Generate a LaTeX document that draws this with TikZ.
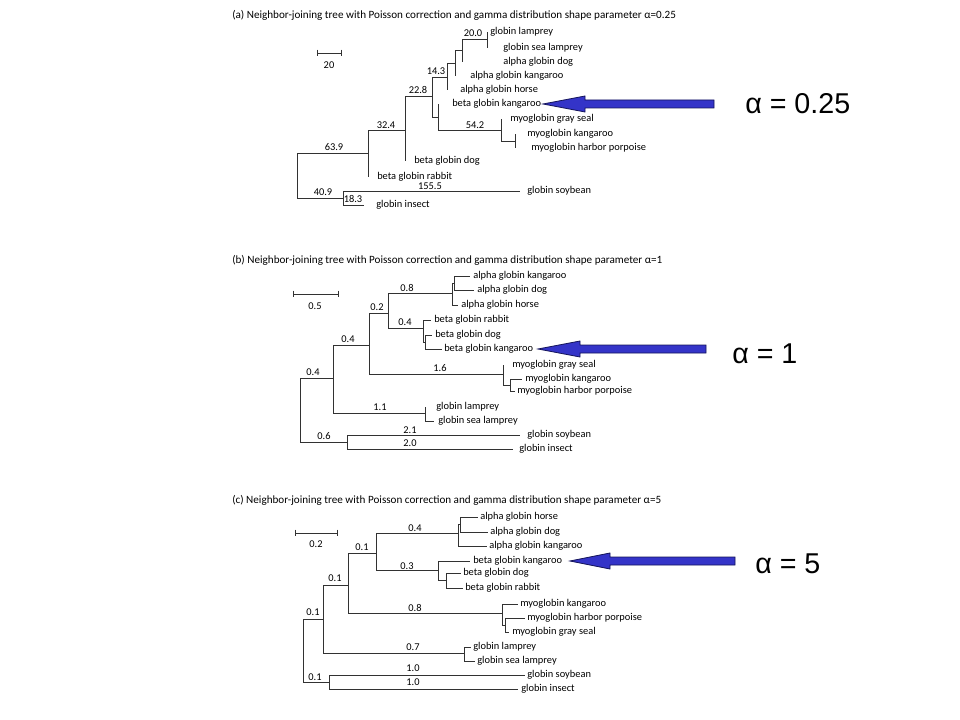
\documentclass[tikz,border=0pt]{standalone}
\usepackage{fontspec}
\setmainfont{Carlito}
\newfontfamily\arialf{Liberation Sans}
\definecolor{arrowblue}{RGB}{52,52,200}
\definecolor{arrowedge}{RGB}{20,20,90}
\definecolor{treeline}{RGB}{50,50,50}
\newcommand\lf[5]{\coordinate (#1) at (#2,#3); \node[lab] (#1t) at (#4,#3) {#5};}
\newcommand\brn[2]{\draw[br] (#1) |- (#2);}
\begin{document}
\begin{tikzpicture}[x=0.75pt,y=-0.75pt,
  br/.style={draw=treeline,line width=0.55pt},
  lab/.style={anchor=west,inner sep=0pt,font=\fontsize{7.8}{9}\selectfont},
  num/.style={anchor=center,inner sep=0pt,font=\fontsize{7.8}{9}\selectfont},
  ttl/.style={anchor=west,inner sep=0pt,font=\fontsize{8.35}{10}\selectfont},
  alab/.style={anchor=west,inner sep=0pt,font=\arialf\fontsize{21.5}{24}\selectfont},
  fatarrow/.style={fill=arrowblue,draw=arrowedge,line width=0.6pt,line join=miter}]
\useasboundingbox (0,0) rectangle (960,720);
\fill[white] (0,0) rectangle (960,720);

% ---------------- (a) ----------------
\node[ttl] (ta) at (232,15) {(a) Neighbor-joining tree with Poisson correction and gamma distribution shape parameter α=0.25};
\coordinate (sa1) at (317,53); \coordinate (sa2) at (341,53);
\draw[br] (sa1) -- (sa2);
\draw[br] ([yshift=2.5pt]sa1) -- ([yshift=-2.5pt]sa1);
\draw[br] ([yshift=2.5pt]sa2) -- ([yshift=-2.5pt]sa2);
\node[num] (sla) at (329,65) {20};

\coordinate (ra) at (297,175.5);
\coordinate (a1) at (368,153);
\coordinate (a2) at (405,130);
\coordinate (a3) at (432,96);
\coordinate (a4) at (447,77);
\coordinate (a5) at (455,63);
\coordinate (a6) at (462,50);
\coordinate (a6b) at (487,39);
\coordinate (a7) at (438,117);
\coordinate (a8) at (501,130);
\coordinate (a8b) at (515,141);
\coordinate (a9) at (343,198);
\lf{la1}{487}{32}{490}{globin lamprey}
\lf{la2}{487}{48}{503}{globin sea lamprey}
\lf{la3}{462}{62}{503}{alpha globin dog}
\lf{la4}{455}{76}{470}{alpha globin kangaroo}
\lf{la5}{447}{90}{460}{alpha globin horse}
\lf{la6}{438}{104}{452}{beta globin kangaroo}
\lf{la7}{501}{119}{510}{myoglobin gray seal}
\lf{la8}{515}{134}{527}{myoglobin kangaroo}
\lf{la9}{515}{148}{531}{myoglobin harbor porpoise}
\lf{la10}{405}{161}{414}{beta globin dog}
\lf{la11}{368}{177}{377}{beta globin rabbit}
\lf{la12}{520}{191}{527}{globin soybean}
\lf{la13}{364}{205}{376}{globin insect}
\brn{ra}{a1}\brn{ra}{a9}
\brn{a1}{a2}\brn{a1}{la11}
\brn{a2}{a3}\brn{a2}{la10}
\brn{a3}{a4}\brn{a3}{a7}
\brn{a4}{a5}\brn{a4}{la5}
\brn{a5}{a6}\brn{a5}{la4}
\brn{a6}{a6b}\brn{a6}{la3}
\brn{a6b}{la1}\brn{a6b}{la2}
\brn{a7}{la6}\brn{a7}{a8}
\brn{a8}{la7}\brn{a8}{a8b}
\brn{a8b}{la8}\brn{a8b}{la9}
\brn{a9}{la12}\brn{a9}{la13}
\node[num] (na1) at (473,33) {20.0};
\node[num] (na2) at (436,71) {14.3};
\node[num] (na3) at (418,90) {22.8};
\node[num] (na4) at (386,125) {32.4};
\node[num] (na5) at (334,147) {63.9};
\node[num] (na6) at (475,125) {54.2};
\node[num] (na7) at (430,186) {155.5};
\node[num] (na8) at (323,192) {40.9};
\node[num] (na9) at (353,199) {18.3};

% ---------------- (b) ----------------
\node[ttl] (tb) at (232,260) {(b) Neighbor-joining tree with Poisson correction and gamma distribution shape parameter α=1};
\coordinate (sb1) at (293,294); \coordinate (sb2) at (338,294);
\draw[br] (sb1) -- (sb2);
\draw[br] ([yshift=2.5pt]sb1) -- ([yshift=-2.5pt]sb1);
\draw[br] ([yshift=2.5pt]sb2) -- ([yshift=-2.5pt]sb2);
\node[num] (slb) at (315,306) {0.5};

\coordinate (rb) at (300,410);
\coordinate (b1) at (333,378);
\coordinate (b2) at (369,345);
\coordinate (b3) at (388,313);
\coordinate (b4) at (452,293);
\coordinate (b4a) at (454,283);
\coordinate (b5) at (423,328);
\coordinate (b5a) at (425,342);
\coordinate (b6) at (503,374);
\coordinate (b6a) at (510,385);
\coordinate (b7) at (425,413);
\coordinate (b8) at (347,442);
\lf{lb1}{470}{276}{473}{alpha globin kangaroo}
\lf{lb2}{474}{290}{477}{alpha globin dog}
\lf{lb3}{458}{305}{461}{alpha globin horse}
\lf{lb4}{431}{320}{434}{beta globin rabbit}
\lf{lb5}{432}{335}{435}{beta globin dog}
\lf{lb6}{442}{349}{444}{beta globin kangaroo}
\lf{lb7}{503}{365}{512}{myoglobin gray seal}
\lf{lb8}{522}{379}{525}{myoglobin kangaroo}
\lf{lb9}{515}{391}{517}{myoglobin harbor porpoise}
\lf{lb10}{425}{407}{436}{globin lamprey}
\lf{lb11}{434}{421}{438}{globin sea lamprey}
\lf{lb12}{520}{435}{527}{globin soybean}
\lf{lb13}{513}{449}{519}{globin insect}
\brn{rb}{b1}\brn{rb}{b8}
\brn{b1}{b2}\brn{b1}{b7}
\brn{b2}{b3}\brn{b2}{b6}
\brn{b3}{b4}\brn{b3}{b5}
\brn{b4}{b4a}\brn{b4}{lb3}
\brn{b4a}{lb1}\brn{b4a}{lb2}
\brn{b5}{lb4}\brn{b5}{b5a}
\brn{b5a}{lb5}\brn{b5a}{lb6}
\brn{b6}{lb7}\brn{b6}{b6a}
\brn{b6a}{lb8}\brn{b6a}{lb9}
\brn{b7}{lb10}\brn{b7}{lb11}
\brn{b8}{lb12}\brn{b8}{lb13}
\node[num] (nb1) at (407,288) {0.8};
\node[num] (nb2) at (377,307) {0.2};
\node[num] (nb3) at (405,322) {0.4};
\node[num] (nb4) at (348,339) {0.4};
\node[num] (nb5) at (440,368) {1.6};
\node[num] (nb6) at (380,407) {1.1};
\node[num] (nb7) at (313,372) {0.4};
\node[num] (nb8) at (324,436) {0.6};
\node[num] (nb9) at (410,430) {2.1};
\node[num] (nb10) at (410,443) {2.0};

% ---------------- (c) ----------------
\node[ttl] (tc) at (232,500) {(c) Neighbor-joining tree with Poisson correction and gamma distribution shape parameter α=5};
\coordinate (sc1) at (295,533); \coordinate (sc2) at (337,533);
\draw[br] (sc1) -- (sc2);
\draw[br] ([yshift=2.5pt]sc1) -- ([yshift=-2.5pt]sc1);
\draw[br] ([yshift=2.5pt]sc2) -- ([yshift=-2.5pt]sc2);
\node[num] (slc) at (316,544) {0.2};

\coordinate (rc) at (303,650.5);
\coordinate (c1) at (323,619);
\coordinate (c2) at (348,585);
\coordinate (c3) at (376,553);
\coordinate (c4) at (458,533);
\coordinate (c4a) at (460,524.5);
\coordinate (c5) at (438,570);
\coordinate (c5a) at (446,580.5);
\coordinate (c6) at (502,613);
\coordinate (c6a) at (505,625);
\coordinate (c7) at (464,653);
\coordinate (c8) at (329,682);
\lf{lc1}{478}{517}{480}{alpha globin horse}
\lf{lc2}{488}{532}{490}{alpha globin dog}
\lf{lc3}{487}{546}{489}{alpha globin kangaroo}
\lf{lc4}{470}{561}{473}{beta globin kangaroo}
\lf{lc5}{461}{573}{463}{beta globin dog}
\lf{lc6}{463}{588}{465}{beta globin rabbit}
\lf{lc7}{518}{604}{520}{myoglobin kangaroo}
\lf{lc8}{525}{618}{527}{myoglobin harbor porpoise}
\lf{lc9}{509}{632}{512}{myoglobin gray seal}
\lf{lc10}{471}{647}{473}{globin lamprey}
\lf{lc11}{475}{661}{477}{globin sea lamprey}
\lf{lc12}{525}{675}{527}{globin soybean}
\lf{lc13}{518}{689}{521}{globin insect}
\brn{rc}{c1}\brn{rc}{c8}
\brn{c1}{c2}\brn{c1}{c7}
\brn{c2}{c3}\brn{c2}{c6}
\brn{c3}{c4}\brn{c3}{c5}
\brn{c4}{c4a}\brn{c4}{lc3}
\brn{c4a}{lc1}\brn{c4a}{lc2}
\brn{c5}{lc4}\brn{c5}{c5a}
\brn{c5a}{lc5}\brn{c5a}{lc6}
\brn{c6}{lc7}\brn{c6}{c6a}
\brn{c6a}{lc8}\brn{c6a}{lc9}
\brn{c7}{lc10}\brn{c7}{lc11}
\brn{c8}{lc12}\brn{c8}{lc13}
\node[num] (nc1) at (415,528) {0.4};
\node[num] (nc2) at (362,547) {0.1};
\node[num] (nc3) at (407,566) {0.3};
\node[num] (nc4) at (335,578) {0.1};
\node[num] (nc5) at (415,608) {0.8};
\node[num] (nc6) at (413,647) {0.7};
\node[num] (nc7) at (313,612) {0.1};
\node[num] (nc8) at (413,668) {1.0};
\node[num] (nc9) at (413,682) {1.0};
\node[num] (nc10) at (315,677) {0.1};

% ---------------- arrows and alpha labels ----------------
\node[alab] (aa) at (745,104) {α = 0.25};
\coordinate (pa) at (543,104);
\draw[fatarrow] (pa) -- ++(42,-8) -- ++(0,4) -- ++(129,0) -- ++(0,8) -- ++(-129,0) -- ++(0,4) -- cycle;

\node[alab] (ab) at (732,354) {α = 1};
\coordinate (pb) at (538,349);
\draw[fatarrow] (pb) -- ++(42,-8) -- ++(0,4) -- ++(126,0) -- ++(0,8) -- ++(-126,0) -- ++(0,4) -- cycle;

\node[alab] (ac) at (755,564) {α = 5};
\coordinate (pc) at (570,561);
\draw[fatarrow] (pc) -- ++(40,-8) -- ++(0,4) -- ++(125,0) -- ++(0,8) -- ++(-125,0) -- ++(0,4) -- cycle;
\end{tikzpicture}
\end{document}
